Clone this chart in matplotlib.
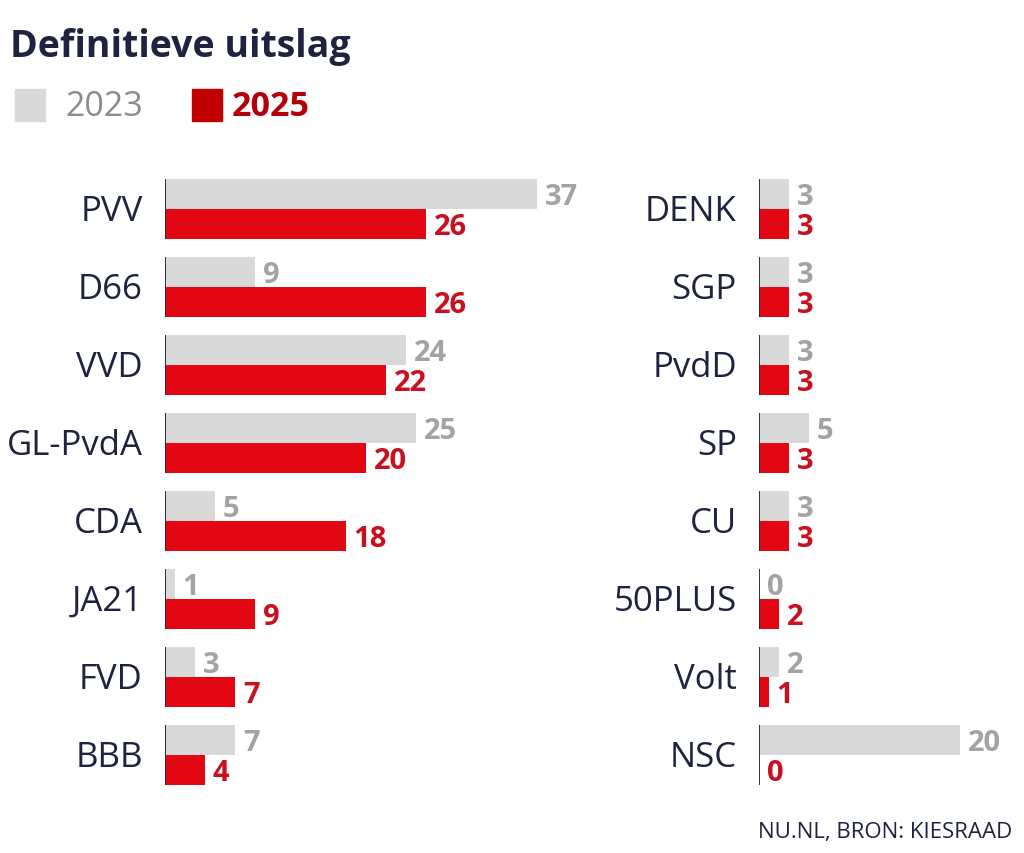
import matplotlib
matplotlib.use("Agg")
import matplotlib.pyplot as plt

plt.rcParams['font.family'] = ['Open Sans', 'DejaVu Sans']

# ----- Data -----
left_parties = ["PVV", "D66", "VVD", "GL-PvdA", "CDA", "JA21", "FVD", "BBB"]
left_2023 = [37, 9, 24, 25, 5, 1, 3, 7]
left_2025 = [26, 26, 22, 20, 18, 9, 7, 4]

right_parties = ["DENK", "SGP", "PvdD", "SP", "CU", "50PLUS", "Volt", "NSC"]
right_2023 = [3, 3, 3, 5, 3, 0, 2, 20]
right_2025 = [3, 3, 3, 3, 3, 2, 1, 0]

# ----- Style -----
GREY_BAR = '#d9d9d9'
RED_BAR = '#e30613'
GREY_TXT = '#a3a3a3'
RED_TXT = '#c8101e'
NAVY = '#1e2340'

W, H = 1024, 854
fig = plt.figure(figsize=(W / 100, H / 100), dpi=100)

px_per_seat = 10.05
pitch = 78          # px between groups
bar_h = 30 / pitch  # bar height in data units


def make_axes(x0_px, xmax):
    top = 210 - pitch / 2
    height = pitch * 8
    ax = fig.add_axes([x0_px / W, (H - top - height) / H,
                       xmax * px_per_seat / W, height / H])
    ax.set_xlim(0, xmax)
    ax.set_ylim(7.5, -0.5)
    ax.axis('off')
    return ax


def draw_panel(ax, parties, v23, v25):
    for i, (p, a, b) in enumerate(zip(parties, v23, v25)):
        ax.barh(i - bar_h / 2, a, height=bar_h, color=GREY_BAR, lw=0)
        ax.barh(i + bar_h / 2, b, height=bar_h, color=RED_BAR, lw=0)
        ax.vlines(0, i - bar_h, i + bar_h, color=NAVY, lw=1.3)
        ax.annotate(p, (0, i), xytext=(-16, -1.5), textcoords='offset points',
                    ha='right', va='center', fontsize=25, color=NAVY)
        ax.annotate(str(a), (a, i - bar_h / 2), xytext=(5.5, -2),
                    textcoords='offset points', ha='left', va='center',
                    fontsize=21, fontweight='bold', color=GREY_TXT)
        ax.annotate(str(b), (b, i + bar_h / 2), xytext=(5.5, -2),
                    textcoords='offset points', ha='left', va='center',
                    fontsize=21, fontweight='bold', color=RED_TXT)


ax_l = make_axes(165, 43)
draw_panel(ax_l, left_parties, left_2023, left_2025)

ax_r = make_axes(759, 25)
draw_panel(ax_r, right_parties, right_2023, right_2025)

# Title and legend
fig.text(10 / W, 1 - 47 / H, "Definitieve uitslag", fontsize=27,
         fontweight='bold', color=NAVY, va='center', ha='left')

fig.patches.append(plt.Rectangle((15 / W, 1 - 122 / H), 30 / W, 32 / H,
                                 color=GREY_BAR, transform=fig.transFigure))
fig.text(65 / W, 1 - 107 / H, "2023", fontsize=24.5, color='#8c8c8c',
         va='center', ha='left')
fig.patches.append(plt.Rectangle((192 / W, 1 - 122 / H), 30 / W, 32 / H,
                                 color='#c00000', transform=fig.transFigure))
fig.text(232 / W, 1 - 107 / H, "2025", fontsize=24.5, fontweight='bold',
         color='#b5000a', va='center', ha='left')

fig.text(1012 / W, 1 - 833 / H, "NU.NL, BRON: KIESRAAD", fontsize=16,
         color=NAVY, va='center', ha='right')

fig.savefig("out.png", dpi=100, facecolor='white')
